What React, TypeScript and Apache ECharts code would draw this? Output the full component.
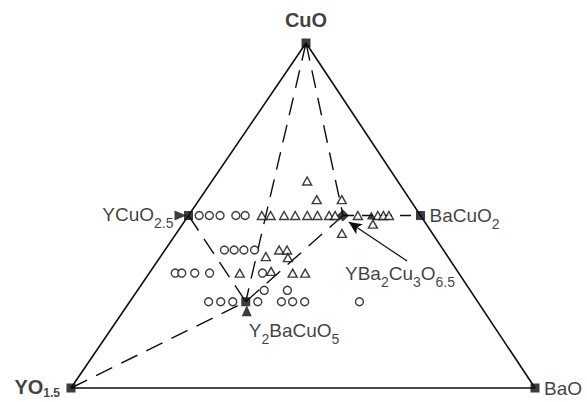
import { useEffect, useRef } from "react";
import * as echarts from "echarts";

// Horizontal position of the CuO apex along the YO1.5–BaO base (fraction of base)
const APEX_X = 0.5065;

// Compositions in mol %: [CuO, BaO]; YO1.5 = 100 - CuO - BaO
const compoundNames = ["CuO", "YO1.5", "BaO", "BaCuO2", "YCuO2.5", "Y2BaCuO5", "YBa2Cu3O6.5"];
const compoundComp = [[100, 0], [0, 0], [0, 100], [50, 50], [50, 0], [25, 25], [50, 33.3]];
const compoundLabels = [
  "{b|CuO}",
  "{b|YO}{bs|1.5}",
  "{n|BaO}",
  "{n|BaCuO}{s|2}",
  "{n|YCuO}{s|2.5}",
  "{n|Y}{s|2}{n|BaCuO}{s|5}",
  "{n|YBa}{s|2}{n|Cu}{s|3}{n|O}{s|6.5}",
];

// Open circles (samples)
const circleSamples = [
  [50, 2.3], [50, 4.5], [50, 6.8], [50, 10.2], [50, 12.2],
  [40, 12.8], [40, 14.9], [40, 17.0], [40, 19.3],
  [33.3, 5.6], [33.3, 7.0], [33.3, 9.8], [33.3, 13.0], [33.3, 24.4],
  [28.3, 27.3], [28.3, 32.3],
  [25, 17.0], [25, 19.6], [25, 22.2], [25, 27.6], [25, 32.7], [25, 35.1], [25, 37.7], [25, 49.5],
];

// Open triangles (samples)
const triangleSamples = [
  [50, 15.8], [50, 17.7], [50, 20.6], [50, 23.0], [50, 25.6], [50, 27.8], [50, 30.3], [50, 31.6],
  [50, 36.5], [50, 40.8], [50, 42.0], [50, 43.2],
  [60, 20.5], [54.6, 25.3], [54.6, 30.7], [44.8, 35.7], [47.5, 41.0],
  [40, 24.6], [40, 26.3], [38.1, 22.7], [37.8, 27.6],
  [33.3, 19.5], [33.8, 26.0], [33.3, 30.9], [33.3, 33.6],
];

// Filled triangles (samples)
const filledTriangleSamples = [[50, 39.4]];

// Triangle edges and dashed tie lines
const edgePath = ["YO1.5", "BaO", "CuO", "YO1.5"];
const tieLines = [
  ["CuO", "Y2BaCuO5"],
  ["CuO", "YBa2Cu3O6.5"],
  ["YCuO2.5", "Y2BaCuO5"],
  ["YBa2Cu3O6.5", "Y2BaCuO5"],
  ["YO1.5", "Y2BaCuO5"],
  ["YBa2Cu3O6.5", "BaCuO2"],
];

// Arrow from the YBa2Cu3O6.5 label to its point ([CuO, BaO] mol %)
const arrowFrom = [36.8, 53.8];
const arrowTo = [48.1, 35.5];

const INK = "#0d0d0d";
const FONT = "Liberation Sans, Arial, sans-serif";

const LABEL_LAYOUT: Record<string, { align: string; offset: number[] }> = {
  "CuO": { align: "center", offset: [0, -23] },
  "YO1.5": { align: "right", offset: [-11, -1] },
  "BaO": { align: "left", offset: [9, 0] },
  "BaCuO2": { align: "left", offset: [9, 0] },
  "YCuO2.5": { align: "right", offset: [-15, -1] },
  "Y2BaCuO5": { align: "left", offset: [3, 29] },
  "YBa2Cu3O6.5": { align: "left", offset: [2, 58] },
};

export default function App() {
  const ref = useRef<HTMLDivElement>(null);

  useEffect(() => {
    if (!ref.current) return;
    const chart = echarts.init(ref.current, null, { renderer: "svg" });

    const toXY = (c: number[]) => [(c[1] + c[0] * APEX_X) / 100, c[0] / 100];
    const pos = (name: string) => toXY(compoundComp[compoundNames.indexOf(name)]);

    const rich = {
      n: { fontFamily: FONT, fontSize: 19, color: INK, lineHeight: 30 },
      s: { fontFamily: FONT, fontSize: 14, color: INK, verticalAlign: "bottom" },
      b: { fontFamily: FONT, fontSize: 20, fontWeight: "bold", color: INK, lineHeight: 24 },
      bs: { fontFamily: FONT, fontSize: 12, fontWeight: "bold", color: INK, verticalAlign: "bottom" },
    };

    const openStyle = { color: "#ffffff", borderColor: INK, borderWidth: 1.4 };

    const option: any = {
      animation: false,
      backgroundColor: "#ffffff",
      grid: { left: 71, right: 52, top: 43, bottom: 14 },
      xAxis: { type: "value", min: 0, max: 1, show: false },
      yAxis: { type: "value", min: 0, max: 1, show: false },
      series: [
        {
          type: "line",
          data: edgePath.map(pos),
          symbol: "none",
          clip: false,
          silent: true,
          lineStyle: { color: INK, width: 1.6 },
          z: 2,
        },
        ...tieLines.map(([a, b]) => ({
          type: "line",
          data: [pos(a), pos(b)],
          symbol: "none",
          clip: false,
          silent: true,
          lineStyle: {
            color: INK,
            width: 1.4,
            type: a === "YBa2Cu3O6.5" && b === "BaCuO2" ? [11, 8] : [18, 10],
          },
          z: 2,
        })),
        {
          type: "scatter",
          data: circleSamples.map(toXY),
          symbol: "circle",
          symbolSize: 8,
          clip: false,
          itemStyle: openStyle,
          z: 3,
        },
        {
          type: "scatter",
          data: triangleSamples.map(toXY),
          symbol: "triangle",
          symbolSize: [9, 8],
          clip: false,
          itemStyle: openStyle,
          z: 3,
        },
        {
          type: "scatter",
          data: filledTriangleSamples.map(toXY),
          symbol: "triangle",
          symbolSize: [9, 8],
          clip: false,
          itemStyle: { color: INK },
          z: 3,
        },
        {
          type: "scatter",
          clip: false,
          itemStyle: { color: INK },
          z: 4,
          data: [
            { value: pos("YCuO2.5"), symbol: "triangle", symbolSize: [10, 12], symbolRotate: -90, symbolOffset: [-8, 0] },
            { value: pos("Y2BaCuO5"), symbol: "triangle", symbolSize: [10, 11], symbolOffset: [1, 9] },
          ],
        },
        {
          type: "scatter",
          clip: false,
          itemStyle: { color: INK },
          z: 5,
          data: compoundNames.map((n, i) => ({
            value: toXY(compoundComp[i]),
            symbol: n === "YBa2Cu3O6.5" ? "diamond" : "rect",
            symbolSize: n === "YBa2Cu3O6.5" ? 12 : 9,
            label: {
              show: true,
              position: "inside",
              formatter: compoundLabels[i],
              align: LABEL_LAYOUT[n].align,
              verticalAlign: "middle",
              offset: LABEL_LAYOUT[n].offset,
              rich,
            },
          })),
          markLine: {
            silent: true,
            symbol: ["none", "arrow"],
            symbolSize: [9, 13],
            label: { show: false },
            lineStyle: { color: INK, width: 1.2, type: "solid" },
            data: [[{ coord: toXY(arrowFrom) }, { coord: toXY(arrowTo) }]],
          },
        },
      ],
    };

    chart.setOption(option);
    return () => chart.dispose();
  }, []);

  return (
    <div
      ref={ref}
      style={{ position: "absolute", left: 0, top: 0, width: 587, height: 402, background: "#fff" }}
    />
  );
}
